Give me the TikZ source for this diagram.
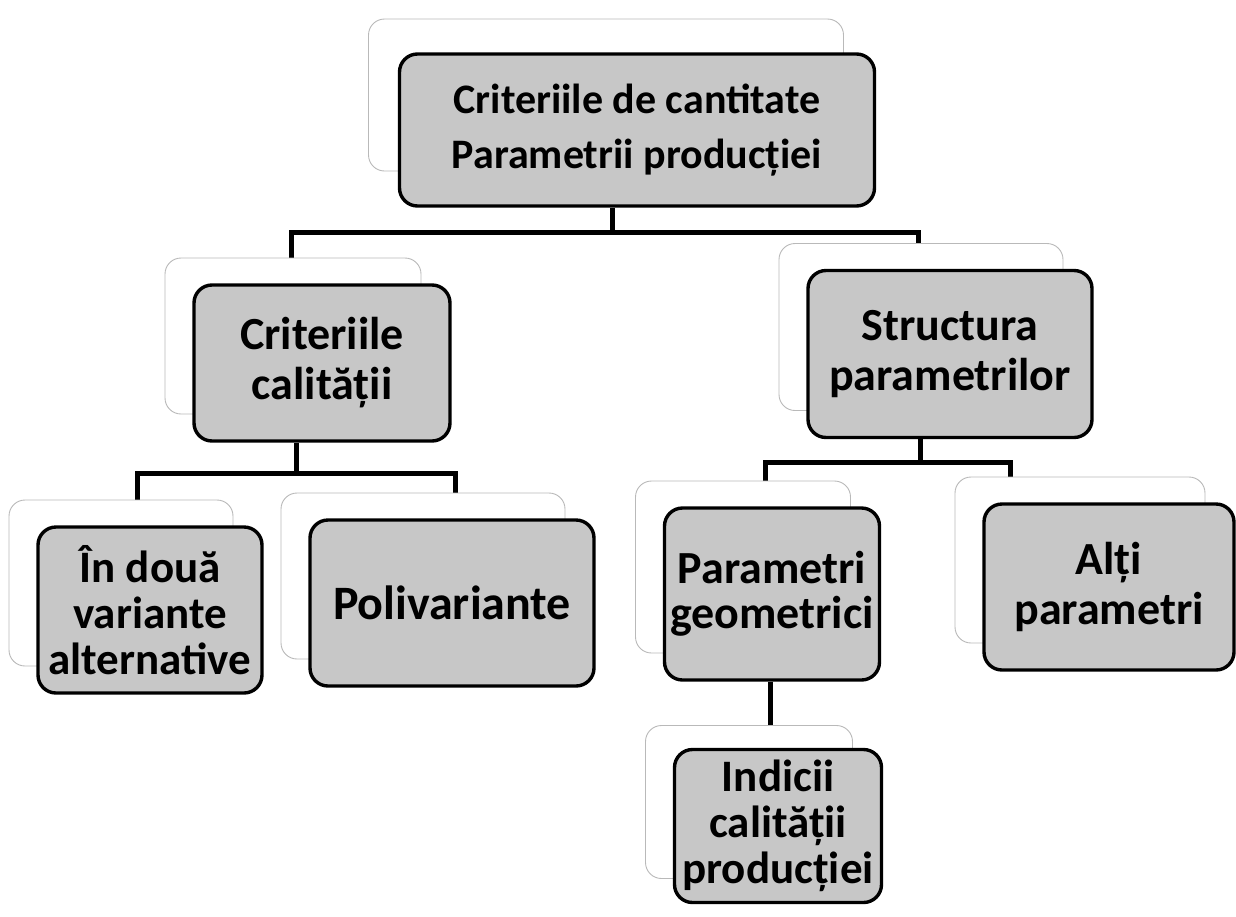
\documentclass[tikz,border=0pt]{standalone}
\usepackage{fontspec}
\setmainfont{Carlito}
\usetikzlibrary{calc,backgrounds}
\begin{document}
\begin{tikzpicture}[x=1pt,y=-1pt,
  mainbox/.style={draw=black, line width=3.4pt, fill=gray!44, rounded corners=18pt, align=center, inner sep=0pt},
  shadowbox/.style={draw=gray!55, line width=0.9pt, fill=white, rounded corners=16pt, inner sep=0pt},
  twoline/.style={font=\bfseries\fontsize{46}{50}\selectfont},
  threeline/.style={font=\bfseries\fontsize{45}{46}\selectfont},
  topline/.style={font=\bfseries\fontsize{42}{55}\selectfont},
  conn/.style={line width=5pt, draw=black}]
\useasboundingbox (0,0) rectangle (1236,916);

% top
\node[shadowbox, minimum width=475pt, minimum height=152pt] (s0) at (606,95) {};
\node[mainbox, topline, minimum width=475pt, minimum height=152pt] (n0) at (637,130) {Criteriile de cantitate\\Parametrii producției};
% Criteriile calitatii
\node[shadowbox, minimum width=256pt, minimum height=156pt] (s1) at (293,336) {};
\node[mainbox, twoline, minimum width=256pt, minimum height=156pt] (n1) at (322,363) {Criteriile\\calității};
% Structura parametrilor
\node[shadowbox, minimum width=284pt, minimum height=167pt] (s2) at (921,327) {};
\node[mainbox, twoline, minimum width=284pt, minimum height=167pt] (n2) at (950,354) {Structura\\parametrilor};
% In doua variante alternative
\node[shadowbox, minimum width=224pt, minimum height=166pt] (s3) at (121,583) {};
\node[mainbox, threeline, minimum width=224pt, minimum height=166pt] (n3) at (150,610) {În două\\variante\\alternative};
% Polivariante
\node[shadowbox, minimum width=284pt, minimum height=166pt] (s4) at (423,576) {};
\node[mainbox, twoline, font=\bfseries\fontsize{48}{50}\selectfont, minimum width=284pt, minimum height=166pt] (n4) at (452,603) {Polivariante};
% Parametri geometrici
\node[shadowbox, minimum width=215pt, minimum height=172pt] (s5) at (743,567) {};
\node[mainbox, twoline, font=\bfseries\fontsize{46}{45}\selectfont, minimum width=215pt, minimum height=172pt] (n5) at (772,594) {Parametri\\geometrici};
% Alti parametri
\node[shadowbox, minimum width=250pt, minimum height=166pt] (s6) at (1080,560) {};
\node[mainbox, twoline, minimum width=250pt, minimum height=166pt] (n6) at (1109,587) {Alți\\parametri};
% Indicii calitatii productiei
\node[shadowbox, minimum width=207pt, minimum height=153pt] (s7) at (749,802) {};
\node[mainbox, threeline, minimum width=207pt, minimum height=153pt] (n7) at (778,826) {Indicii\\calității\\producției};

\begin{scope}[on background layer]
\coordinate (b1m) at (612,232);
\coordinate (b1l) at (291,232);
\coordinate (b1r) at (918,232);
\draw[conn] (b1m |- n0.south) -- (b1m);
\draw[conn] (b1l |- s1.north) -- (b1l) -- (b1r) -- (b1r |- s2.north);

\coordinate (b2m) at (296,473);
\coordinate (b2l) at (137,473);
\coordinate (b2r) at (455,473);
\draw[conn] (b2m |- n1.south) -- (b2m);
\draw[conn] (b2l |- s3.north) -- (b2l) -- (b2r) -- (b2r |- s4.north);

\coordinate (b3m) at (920,462);
\coordinate (b3l) at (765,462);
\coordinate (b3r) at (1010,462);
\draw[conn] (b3m |- n2.south) -- (b3m);
\draw[conn] (b3l |- s5.north) -- (b3l) -- (b3r) -- (b3r |- s6.north);

\coordinate (p5) at (770,700);
\draw[conn] (p5 |- n5.south) -- (p5 |- s7.north);
\end{scope}
\end{tikzpicture}
\end{document}
